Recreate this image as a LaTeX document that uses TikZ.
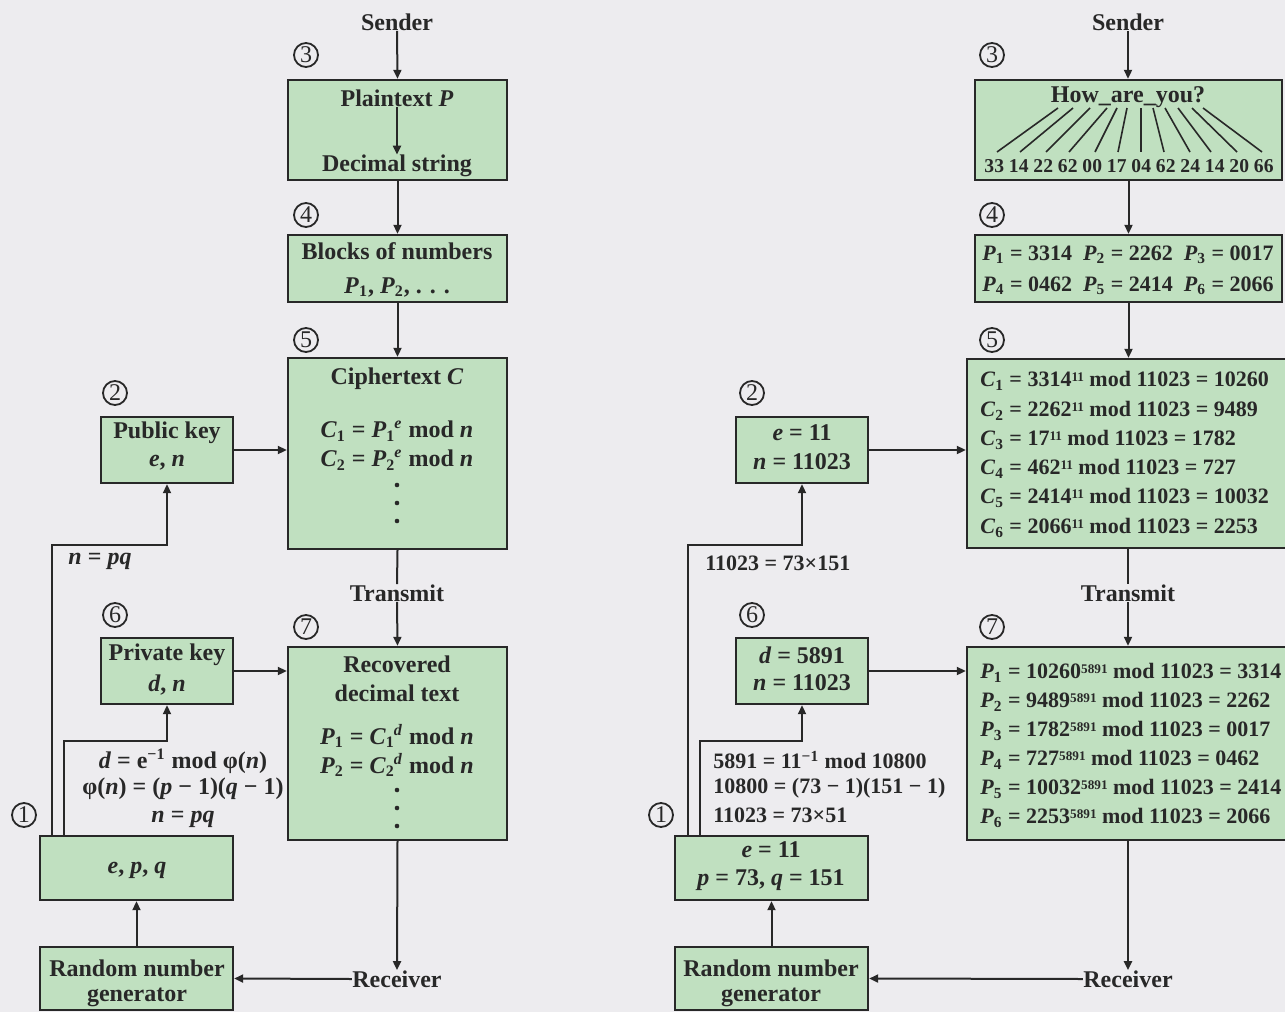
\documentclass[tikz,border=0pt]{standalone}
\usepackage{fontspec}
\setmainfont{Liberation Serif}
\usetikzlibrary{arrows.meta}

\definecolor{bg}{RGB}{237,236,239}
\definecolor{boxgreen}{RGB}{192,224,192}
\definecolor{ink}{RGB}{40,40,40}

% subscript followed by a superscript on the same letter
\newcommand\subsup[2]{\textsubscript{#1}\kern-0.04em\textsuperscript{#2}}
% small raised exponent for the worked numbers
\newcommand\ex[1]{\raisebox{0.55ex}{\fontsize{6.6}{7}\selectfont #1}}

\begin{document}
\begin{tikzpicture}[x=0.5pt,y=-0.5pt,
  box/.style={draw=ink, fill=boxgreen, line width=1.2pt, rectangle, inner sep=0pt},
  txt/.style={font=\fontsize{12}{14}\selectfont\bfseries, text=ink, inner sep=0pt},
  stxt/.style={font=\fontsize{11}{13}\selectfont\bfseries, text=ink, inner sep=0pt},
  ntxt/.style={font=\fontsize{9.8}{12}\selectfont\bfseries, text=ink, inner sep=0pt},
  circ/.style={circle, draw=ink, line width=0.9pt, inner sep=0pt, minimum size=12pt,
    font=\fontsize{12}{12}\selectfont, text=ink},
  conn/.style={draw=ink, line width=1pt},
  arr/.style={conn, -{Triangle[length=4.5pt,width=4pt]}},
  fan/.style={draw=ink, line width=0.8pt},
  vdot/.style={fill=ink},
]
\fill[bg] (0,0) rectangle (1285,1012);
\useasboundingbox (0,0) rectangle (1285,1012);

%% ================= general scheme (left) =================
\node[box, minimum width=109.5pt, minimum height=50pt]   (pt)   at (397.5,130)   {};
\node[box, minimum width=109.5pt, minimum height=33.5pt] (blk)  at (397.5,268.5) {};
\node[box, minimum width=109.5pt, minimum height=95.5pt] (ciph) at (397.5,453.5) {};
\node[box, minimum width=109.5pt, minimum height=96.5pt] (rec)  at (397.5,743.5) {};
\node[box, minimum width=66pt, minimum height=33pt]      (pub)  at (167,450)     {};
\node[box, minimum width=66pt, minimum height=33pt]      (priv) at (167,671)     {};
\node[box, minimum width=96.5pt, minimum height=32pt]    (epq)  at (136.5,868)   {};
\node[box, minimum width=96.5pt, minimum height=31.5pt]  (rng)  at (136.5,978.5) {};

\node[txt] (sendL) at (397,22) {Sender};
\node[txt] (ptA) at (397,98) {Plaintext \textit{P}};
\node[txt] (ptB) at (397,166) {Decimal string};
\node[txt] (blkA) at (397,251) {Blocks of numbers};
\node[txt] (blkB) at (397,287) {\textit{P}\textsubscript{1}, \textit{P}\textsubscript{2}, . . .};
\node[txt] (cA) at (397,379) {Ciphertext \textit{C}};
\node[txt] (cB) at (397,431) {\textit{C}\textsubscript{1} = \textit{P}\subsup{1}{\textit{e}} mod \textit{n}};
\node[txt] (cC) at (397,460) {\textit{C}\textsubscript{2} = \textit{P}\subsup{2}{\textit{e}} mod \textit{n}};
% vertical ellipses
\foreach \y in {485,503,521} \fill[vdot] (397,\y) circle[radius=1.15pt];
\node[txt] (trL) at (397,593) {Transmit};
\node[txt] (rA) at (397,664) {Recovered};
\node[txt] (rB) at (397,693) {decimal text};
\node[txt] (rC) at (397,736) {\textit{P}\textsubscript{1} = \textit{C}\subsup{1}{\textit{d}} mod \textit{n}};
\node[txt] (rD) at (397,765) {\textit{P}\textsubscript{2} = \textit{C}\subsup{2}{\textit{d}} mod \textit{n}};
\foreach \y in {790,808,826} \fill[vdot] (397,\y) circle[radius=1.15pt];
\node[txt] (rcvL) at (397,979) {Receiver};
\node[txt] (pubA) at (167,433) {Public key};
\node[txt] (pubB) at (167,463) {\textit{e}, \textit{n}};
\node[txt] (privA) at (167,655) {Private key};
\node[txt] (privB) at (167,685) {\textit{d}, \textit{n}};
\node[txt] (epqT) at (137,870) {\textit{e}, \textit{p}, \textit{q}};
\node[txt] (rngA) at (137,968) {Random number};
\node[txt] (rngB) at (137,997) {generator};
\node[txt] (npqA) at (100,561) {\textit{n} = \textit{pq}};
\node[txt] (dA) at (183,761) {\textit{d} = e\textsuperscript{−1} mod φ(\textit{n})};
\node[txt] (dB) at (183,789) {φ(\textit{n}) = (\textit{p} − 1)(\textit{q} − 1)};
\node[txt] (dC) at (183,819) {\textit{n} = \textit{pq}};

\node[circ] (s3L) at (306,55) {3};
\node[circ] (s4L) at (306,215) {4};
\node[circ] (s5L) at (306,340) {5};
\node[circ] (s7L) at (306,627) {7};
\node[circ] (s2L) at (115,393) {2};
\node[circ] (s6L) at (115,615) {6};
\node[circ] (s1L) at (24,815) {1};

\draw[arr] (sendL.south) -- (pt.north);
\draw[arr] (ptA.south) -- (ptB.north);
\draw[arr] (pt.south) -- (blk.north);
\draw[arr] (blk.south) -- (ciph.north);
\draw[conn] (ciph.south) -- (trL.north);
\draw[arr] (trL.south) -- (rec.north);
\draw[arr] (rec.south) -- (rcvL.north);
\draw[arr] (rcvL.west) -- (rng.east);
\draw[arr] (rng.north) -- (epq.south);
\draw[arr] (pub.east) -- (pub.east -| ciph.west);
\draw[arr] (priv.east) -- (priv.east -| rec.west);
\coordinate (l1) at (52,836);  \coordinate (l1b) at (52,545);
\coordinate (l2) at (64,836);  \coordinate (l2b) at (64,741);
\draw[arr] (l1) -- (l1b) -| (pub.south);
\draw[arr] (l2) -- (l2b) -| (priv.south);

%% ================= worked example (right) =================
\node[box, minimum width=153.5pt, minimum height=50pt]   (how)  at (1128.5,130)   {};
\node[box, minimum width=153.5pt, minimum height=33.5pt] (pblk) at (1128.5,268.5) {};
\node[box, minimum width=162.5pt, minimum height=94.5pt] (cbox) at (1129.5,453.5) {};
\node[box, minimum width=162.5pt, minimum height=96.5pt] (pbox) at (1129.5,743.5) {};
\node[box, minimum width=66pt, minimum height=33pt]      (ekey) at (802,450)      {};
\node[box, minimum width=66pt, minimum height=33pt]      (dkey) at (802,671)      {};
\node[box, minimum width=96.5pt, minimum height=32pt]    (ep)   at (771.5,868)    {};
\node[box, minimum width=96.5pt, minimum height=31.5pt]  (rng2) at (771.5,978.5)  {};

\node[txt] (sendR) at (1128,22) {Sender};
\node[txt] (howA) at (1128,97) {How\_are\_you?};
\node[ntxt] (howB) at (1129,166) {33 14 22 62 00 17 04 62 24 14 20 66};
\foreach \xt/\xb in {1058/997,1073/1020,1090/1046,1107/1069,1117/1095,1127/1118,
                     1141/1141,1153/1164,1165/1190,1178/1211,1192/1237,1203/1262}
  \draw[fan] (\xt,108) -- (\xb,152);

\node[stxt] (pbA) at (1128,255) {\textit{P}\textsubscript{1} = 3314\enspace \textit{P}\textsubscript{2} = 2262\enspace \textit{P}\textsubscript{3} = 0017};
\node[stxt] (pbB) at (1128,286) {\textit{P}\textsubscript{4} = 0462\enspace \textit{P}\textsubscript{5} = 2414\enspace \textit{P}\textsubscript{6} = 2066};

\node[stxt, anchor=west] (c1) at (980,381) {\textit{C}\textsubscript{1} = 3314\ex{11} mod 11023 = 10260};
\node[stxt, anchor=west] (c2) at (980,411) {\textit{C}\textsubscript{2} = 2262\ex{11} mod 11023 = 9489};
\node[stxt, anchor=west] (c3) at (980,440) {\textit{C}\textsubscript{3} = 17\ex{11} mod 11023 = 1782};
\node[stxt, anchor=west] (c4) at (980,469) {\textit{C}\textsubscript{4} = 462\ex{11} mod 11023 = 727};
\node[stxt, anchor=west] (c5) at (980,498) {\textit{C}\textsubscript{5} = 2414\ex{11} mod 11023 = 10032};
\node[stxt, anchor=west] (c6) at (980,528) {\textit{C}\textsubscript{6} = 2066\ex{11} mod 11023 = 2253};

\node[txt] (trR) at (1128,593) {Transmit};

\node[stxt, anchor=west] (p1) at (980,673) {\textit{P}\textsubscript{1} = 10260\ex{5891} mod 11023 = 3314};
\node[stxt, anchor=west] (p2) at (980,702) {\textit{P}\textsubscript{2} = 9489\ex{5891} mod 11023 = 2262};
\node[stxt, anchor=west] (p3) at (980,731) {\textit{P}\textsubscript{3} = 1782\ex{5891} mod 11023 = 0017};
\node[stxt, anchor=west] (p4) at (980,760) {\textit{P}\textsubscript{4} = 727\ex{5891} mod 11023 = 0462};
\node[stxt, anchor=west] (p5) at (980,789) {\textit{P}\textsubscript{5} = 10032\ex{5891} mod 11023 = 2414};
\node[stxt, anchor=west] (p6) at (980,818) {\textit{P}\textsubscript{6} = 2253\ex{5891} mod 11023 = 2066};

\node[txt] (rcvR) at (1128,979) {Receiver};
\node[txt] (ekA) at (802,433) {\textit{e} = 11};
\node[txt] (ekB) at (802,462) {\textit{n} = 11023};
\node[txt] (dkA) at (802,655) {\textit{d} = 5891};
\node[txt] (dkB) at (802,683) {\textit{n} = 11023};
\node[txt] (epA) at (771,850) {\textit{e} = 11};
\node[txt] (epB) at (771,880) {\textit{p} = 73, \textit{q} = 151};
\node[txt] (rg2A) at (771,968) {Random number};
\node[txt] (rg2B) at (771,997) {generator};
\node[stxt, anchor=west] (nfac) at (705,563) {11023 = 73×151};
\node[stxt, anchor=west] (eqA) at (713,760) {5891 = 11\textsuperscript{−1} mod 10800};
\node[stxt, anchor=west] (eqB) at (713,788) {10800 = (73 − 1)(151 − 1)};
\node[stxt, anchor=west] (eqC) at (713,815) {11023 = 73×51};

\node[circ] (s3R) at (992,55) {3};
\node[circ] (s4R) at (992,215) {4};
\node[circ] (s5R) at (992,340) {5};
\node[circ] (s7R) at (992,627) {7};
\node[circ] (s2R) at (752,393) {2};
\node[circ] (s6R) at (752,615) {6};
\node[circ] (s1R) at (661,815) {1};

\draw[arr] (sendR.south) -- (sendR.south |- how.north);
\draw[arr] (how.south) -- (pblk.north);
\draw[arr] (pblk.south) -- (pblk.south |- cbox.north);
\draw[conn] (cbox.south -| trR) -- (trR.north);
\draw[arr] (trR.south) -- (trR.south |- pbox.north);
\draw[arr] (pbox.south -| rcvR) -- (rcvR.north);
\draw[arr] (rcvR.west) -- (rng2.east);
\draw[arr] (rng2.north) -- (ep.south);
\draw[arr] (ekey.east) -- (ekey.east -| cbox.west);
\draw[arr] (dkey.east) -- (dkey.east -| pbox.west);
\coordinate (r1) at (688,836);  \coordinate (r1b) at (688,545);
\coordinate (r2) at (700,836);  \coordinate (r2b) at (700,741);
\draw[arr] (r1) -- (r1b) -| (ekey.south);
\draw[arr] (r2) -- (r2b) -| (dkey.south);
\end{tikzpicture}
\end{document}
